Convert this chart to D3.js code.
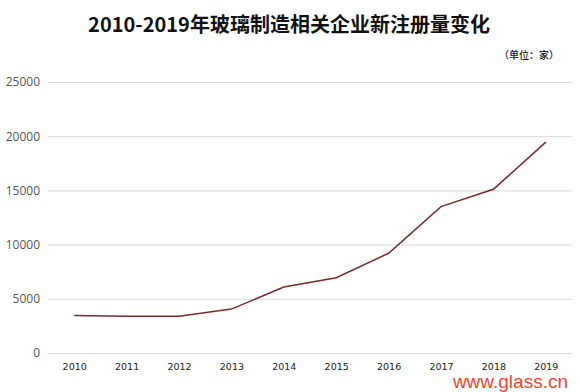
<!DOCTYPE html>
<html><head><meta charset="utf-8">
<script src="https://cdn.jsdelivr.net/npm/d3@7"></script>
<style>body{margin:0;background:#fff}svg{display:block}</style>
</head><body><svg id="c" width="580" height="392"></svg>
<script>
const years = ["2010","2011","2012","2013","2014","2015","2016","2017","2018","2019"];
const values = [3450, 3400, 3400, 4050, 6080, 6950, 9200, 13500, 15100, 19450];
const yTicks = [0, 5000, 10000, 15000, 20000, 25000];
const title = "2010-2019年玻璃制造相关企业新注册量变化";
const unit = "（单位：家）";

const svg = d3.select("#c");
const x = d3.scalePoint().domain(years).range([48, 572]).padding(0.5);
const y = d3.scaleLinear().domain([0, 25000]).range([353, 82]);

svg.append("text").attr("x", 289).attr("y", 32).attr("text-anchor", "middle")
  .attr("font-family", "Noto Sans CJK SC").attr("font-weight", "bold").attr("font-size", 20)
  .attr("fill", "#111").text(title);
svg.append("text").attr("x", 559).attr("y", 59).attr("text-anchor", "end")
  .attr("font-family", "Noto Sans CJK SC").attr("font-weight", 500).attr("font-size", 10).attr("fill", "#222").text(unit);

const ya = svg.append("g").attr("transform", "translate(48,0)")
  .call(d3.axisLeft(y).tickValues(yTicks).tickSize(-524).tickFormat(d3.format("d")).tickPadding(8));
ya.select(".domain").remove();
ya.selectAll("line").attr("stroke", "#d9d9d9");
ya.selectAll("text").attr("font-family", "Open Sans").attr("font-size", 12).attr("fill", "#555");

const xa = svg.append("g").attr("transform", "translate(0,353)")
  .call(d3.axisBottom(x).tickSize(0).tickPadding(10));
xa.select(".domain").remove();
xa.selectAll("text").attr("font-family", "DejaVu Sans").attr("font-size", 9.5).attr("fill", "#222");

svg.append("path").datum(values)
  .attr("d", d3.line().x((d, i) => x(years[i])).y(d => y(d)))
  .attr("fill", "none").attr("stroke", "#7b2a2a").attr("stroke-width", 1.5);

svg.append("text").attr("x", 568).attr("y", 388).attr("text-anchor", "end")
  .attr("font-family", "Liberation Sans").attr("font-size", 19).attr("fill", "#f2452a").text("www.glass.cn");
</script></body></html>
